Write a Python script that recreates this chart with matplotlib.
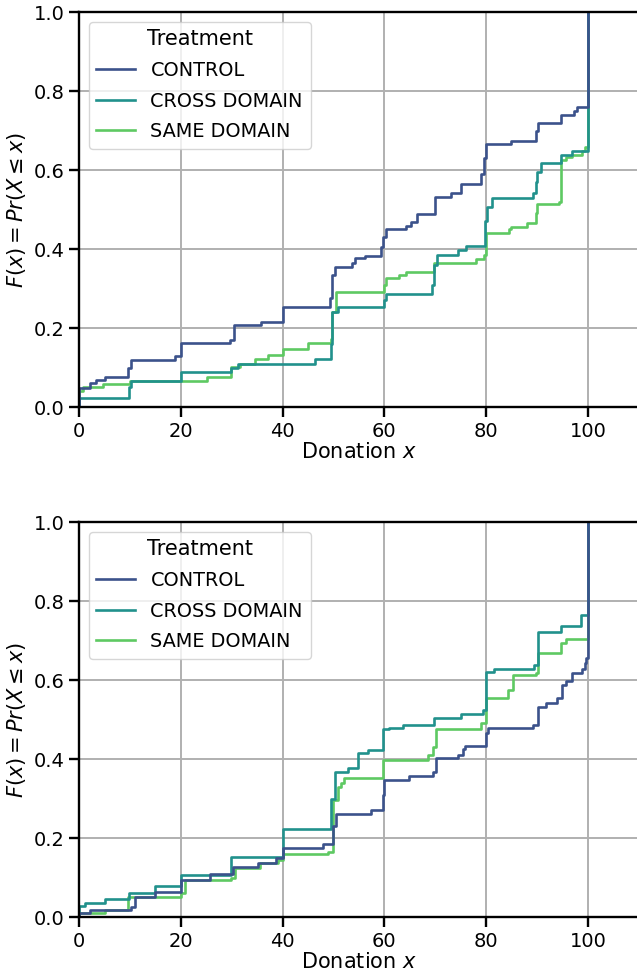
import matplotlib
matplotlib.use("Agg")
import matplotlib.pyplot as plt
import numpy as np

# treatment groups and viridis(3) colours
groups = ["CONTROL", "CROSS DOMAIN", "SAME DOMAIN"]
colors = ["#3b528b", "#21918c", "#5ec962"]

# ECDF breakpoints (donation, cumulative share) -- top panel
top_control_x = [0, 2.2, 3.3, 5.2, 9.6, 10.2, 18.8, 20.1, 29.6, 30.4, 35.8, 40, 49.4, 49.8, 50.3, 53.7, 54.2, 56.1,
                 59.3, 59.7, 60.3, 64.2, 65.2, 66.5, 69.9, 73.1, 75, 79, 79.5, 80, 84.8, 89.7, 90.2, 94.6, 97.3, 97.8, 100]
top_control_y = [0.048, 0.06, 0.068, 0.075, 0.1, 0.12, 0.13, 0.161, 0.17, 0.208, 0.216, 0.254, 0.275, 0.335, 0.355,
                 0.364, 0.376, 0.382, 0.405, 0.43, 0.45, 0.458, 0.469, 0.488, 0.532, 0.543, 0.564, 0.59, 0.63, 0.666,
                 0.674, 0.7, 0.718, 0.739, 0.75, 0.759, 1.0]
top_cross_x = [0, 9.8, 10.3, 20.1, 29.9, 31.2, 46.3, 49.5, 49.8, 50.8, 59.9, 60.3, 69.3, 69.8, 70.3, 74.4, 76, 79.8,
               80.2, 81.2, 89.1, 89.7, 90.0, 90.7, 94.6, 96.9, 100]
top_cross_y = [0.022, 0.05, 0.067, 0.089, 0.1, 0.11, 0.121, 0.16, 0.241, 0.254, 0.27, 0.286, 0.31, 0.36, 0.385, 0.397,
               0.408, 0.47, 0.507, 0.528, 0.541, 0.57, 0.596, 0.617, 0.638, 0.649, 1.0]
top_same_x = [0, 0.7, 4.8, 10, 25.2, 29.9, 31.6, 34.5, 37.1, 40, 44.9, 49.5, 49.8, 50.5, 59.9, 60.3, 62.9, 64.2, 69.8,
              78, 79.6, 79.9, 84.5, 84.8, 88, 89.7, 90, 94.3, 94.7, 95.6, 96.9, 98.9, 99.5, 100]
top_same_y = [0.041, 0.051, 0.058, 0.067, 0.075, 0.102, 0.11, 0.121, 0.132, 0.146, 0.163, 0.171, 0.24, 0.292, 0.31,
              0.327, 0.334, 0.343, 0.365, 0.374, 0.385, 0.44, 0.45, 0.456, 0.465, 0.49, 0.514, 0.52, 0.625, 0.634,
              0.638, 0.649, 0.659, 1.0]

# bottom panel
bot_control_x = [0, 2.2, 10.3, 11, 14.9, 20.1, 25.7, 30.3, 35.2, 38.8, 40.1, 48, 49.9, 50.5, 57.4, 59.7, 60, 64.9,
                 69.5, 70.1, 74.4, 75.4, 75.9, 79.9, 80.3, 89.1, 90.1, 91.7, 94, 94.8, 95.6, 96.9, 98.9, 99.4, 99.7, 100]
bot_control_y = [0.009, 0.018, 0.026, 0.051, 0.064, 0.094, 0.108, 0.127, 0.136, 0.149, 0.174, 0.184, 0.23, 0.261,
                 0.271, 0.31, 0.347, 0.357, 0.368, 0.402, 0.41, 0.425, 0.434, 0.466, 0.478, 0.486, 0.531, 0.543,
                 0.554, 0.587, 0.597, 0.618, 0.629, 0.642, 0.655, 1.0]
bot_cross_x = [0, 1.2, 5.1, 9.8, 14.9, 20.1, 29.9, 40.1, 49.5, 50.2, 52.8, 54.8, 56.7, 59.7, 60.9, 63.6, 69.8, 75,
               79.3, 79.9, 81.6, 89.4, 90.1, 94.6, 98.6, 100]
bot_cross_y = [0.028, 0.035, 0.045, 0.062, 0.078, 0.106, 0.153, 0.224, 0.3, 0.368, 0.378, 0.414, 0.423, 0.475, 0.478,
               0.486, 0.503, 0.514, 0.524, 0.621, 0.629, 0.638, 0.722, 0.737, 0.765, 1.0]
bot_same_x = [0, 5.1, 9.7, 20.1, 20.8, 29.9, 30.6, 35.5, 39.1, 40.1, 48.9, 49.9, 50.9, 51.5, 52, 59.7, 68.5, 69.5,
              70.1, 79, 79.9, 84.2, 85.2, 89.7, 90.1, 94.6, 95.6, 100]
bot_same_y = [0.009, 0.019, 0.051, 0.06, 0.094, 0.099, 0.123, 0.136, 0.144, 0.159, 0.165, 0.296, 0.33, 0.34, 0.351,
              0.397, 0.41, 0.431, 0.475, 0.49, 0.554, 0.575, 0.613, 0.617, 0.669, 0.693, 0.703, 1.0]

panels = [
    [(top_control_x, top_control_y), (top_cross_x, top_cross_y), (top_same_x, top_same_y)],
    [(bot_control_x, bot_control_y), (bot_cross_x, bot_cross_y), (bot_same_x, bot_same_y)],
]

fig = plt.figure(figsize=(6.37, 9.77), dpi=100)
ax_top = fig.add_axes([0.124, 0.5834, 0.879, 0.4043])
ax_bot = fig.add_axes([0.124, 0.0614, 0.879, 0.4043])

for ax, series in zip([ax_top, ax_bot], panels):
    # seaborn draws hues last-to-first, so control ends up on top
    for i in reversed(range(len(groups))):
        xs, ys = series[i]
        ax.step(np.r_[0, xs], np.r_[0, ys], where="post", color=colors[i], lw=1.9, label=groups[i])

    ax.set_xlim(0, 110)
    ax.set_ylim(0, 1.0)
    ax.set_xticks(np.arange(0, 101, 20))
    ax.set_yticks(np.arange(0, 1.01, 0.2))
    ax.grid(True, color="#b0b0b0", lw=1.4)
    ax.set_axisbelow(True)
    for s in ax.spines.values():
        s.set_linewidth(1.7)
    ax.tick_params(labelsize=14, length=7, width=1.7)
    ax.set_xlabel("Donation $x$", fontsize=15, labelpad=1)
    ax.set_ylabel(r"$F(x) = Pr(X \leq x)$", fontsize=15)

    handles, labels = ax.get_legend_handles_labels()
    ax.legend(handles[::-1], labels[::-1], title="Treatment", loc="upper left", fontsize=13.9,
              title_fontsize=15, framealpha=0.8, borderaxespad=0.5, labelspacing=0.6)

fig.savefig("out.png", dpi=100)
